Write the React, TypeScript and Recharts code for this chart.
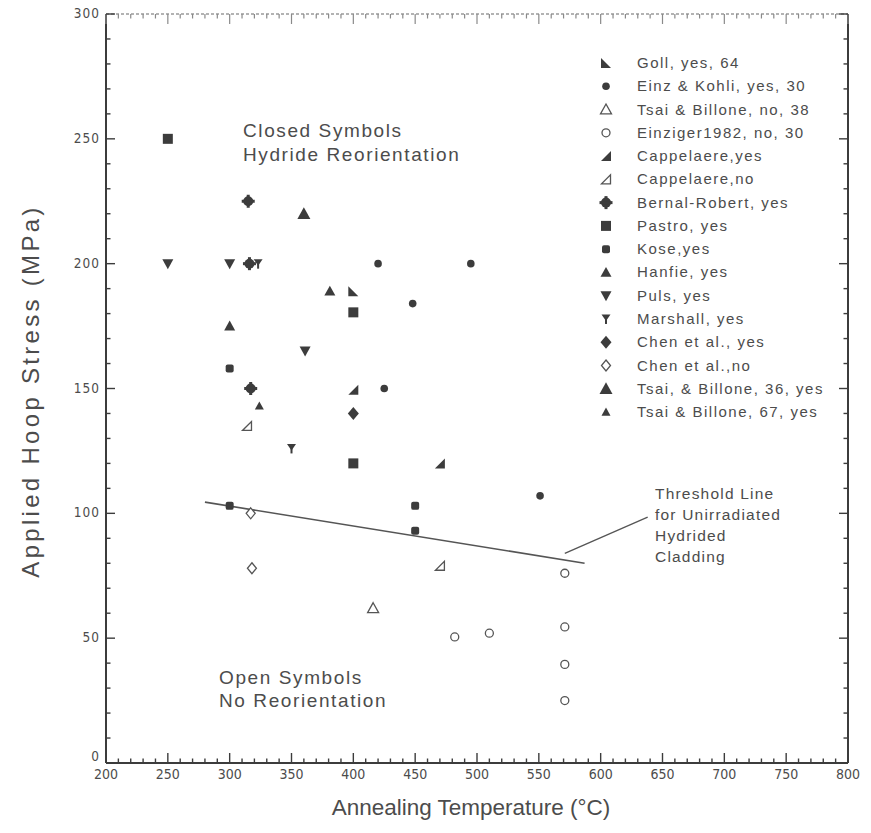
import React from 'react';
import { ScatterChart, Scatter, XAxis, YAxis, ReferenceLine, Customized } from 'recharts';

// annealing temperature (°C) / applied hoop stress (MPa)
const gollT = [400];
const gollS = [189];
const einzKohliT = [420, 495, 448, 425, 551];
const einzKohliS = [200, 200, 184, 150, 107];
const tsaiNoT = [416];
const tsaiNoS = [62];
const einziger82T = [482, 510, 571, 571, 571, 571];
const einziger82S = [50.5, 52, 76, 54.5, 39.5, 25];
const cappYesT = [400, 470];
const cappYesS = [149.5, 120];
const cappNoT = [314, 470];
const cappNoS = [135, 79];
const bernalT = [315, 316, 317];
const bernalS = [225, 200, 150];
const pastroT = [250, 400, 400];
const pastroS = [250, 180.5, 120];
const koseT = [300, 300, 450, 450];
const koseS = [158, 103, 103, 93];
const hanfieT = [300, 381];
const hanfieS = [175, 189];
const pulsT = [250, 300, 361];
const pulsS = [200, 200, 165];
const marshallT = [323, 350];
const marshallS = [200, 126];
const chenYesT = [400];
const chenYesS = [140];
const chenNoT = [317, 318];
const chenNoS = [100, 78];
const tsai36T = [360];
const tsai36S = [220];
const tsai67T = [324];
const tsai67S = [143];

const thresholdT = [280, 587];
const thresholdS = [104.5, 80];
const pointerT = [571, 638];
const pointerS = [84, 98.5];

const xTicks = Array.from({ length: 61 }, (_, i) => 200 + i * 10);
const yTicks = Array.from({ length: 31 }, (_, i) => i * 10);

const DARK = '#3c3c3c';
const TEXT = '#4c4c4c';
const NARROW = "'Liberation Sans Narrow', 'DejaVu Sans Condensed', 'Liberation Sans', sans-serif";
const SANS = "'Liberation Sans', Arial, sans-serif";

const PLOT_W = 742;
const PLOT_H = 749;

const pts = (t: number[], s: number[]) => t.map((x, i) => ({ x, y: s[i] }));

const series = [
  { name: 'Goll, yes, 64', kind: 'rtriL', data: pts(gollT, gollS) },
  { name: 'Einz & Kohli, yes, 30', kind: 'dot', data: pts(einzKohliT, einzKohliS) },
  { name: 'Tsai & Billone, no, 38', kind: 'openTri', data: pts(tsaiNoT, tsaiNoS) },
  { name: 'Einziger1982,  no, 30', kind: 'openCircle', data: pts(einziger82T, einziger82S) },
  { name: 'Cappelaere,yes', kind: 'rtriR', data: pts(cappYesT, cappYesS) },
  { name: 'Cappelaere,no', kind: 'openRtriR', data: pts(cappNoT, cappNoS) },
  { name: 'Bernal-Robert,  yes', kind: 'bigDot', data: pts(bernalT, bernalS) },
  { name: 'Pastro, yes', kind: 'square', data: pts(pastroT, pastroS) },
  { name: 'Kose,yes', kind: 'smallSquare', data: pts(koseT, koseS) },
  { name: 'Hanfie,  yes', kind: 'tri', data: pts(hanfieT, hanfieS) },
  { name: 'Puls, yes', kind: 'invTri', data: pts(pulsT, pulsS) },
  { name: 'Marshall,  yes', kind: 'invTriSmall', data: pts(marshallT, marshallS) },
  { name: 'Chen et al., yes', kind: 'diamond', data: pts(chenYesT, chenYesS) },
  { name: 'Chen et al.,no', kind: 'openDiamond', data: pts(chenNoT, chenNoS) },
  { name: 'Tsai, & Billone, 36, yes', kind: 'bigTri', data: pts(tsai36T, tsai36S) },
  { name: 'Tsai & Billone, 67, yes', kind: 'smallTri', data: pts(tsai67T, tsai67S) },
];

function Mark({ kind, cx, cy }: { kind: string; cx: number; cy: number }) {
  const open = { fill: '#fff', stroke: '#555', strokeWidth: 1.3 };
  const tri = (s: number) => `${cx},${cy - s} ${cx + s},${cy + s * 0.8} ${cx - s},${cy + s * 0.8}`;
  switch (kind) {
    case 'square':
      return <rect x={cx - 5} y={cy - 5} width={10} height={10} fill={DARK} />;
    case 'smallSquare':
      return <rect x={cx - 4} y={cy - 4} width={8} height={8} rx={2} fill={DARK} />;
    case 'dot':
      return <circle cx={cx} cy={cy} r={3.8} fill={DARK} />;
    case 'bigDot':
      return (
        <g fill={DARK}>
          <circle cx={cx} cy={cy} r={5} />
          <rect x={cx - 1.5} y={cy - 6.5} width={3} height={13} />
          <rect x={cx - 6.5} y={cy - 1.5} width={13} height={3} />
        </g>
      );
    case 'openCircle':
      return <circle cx={cx} cy={cy} r={4} {...open} />;
    case 'tri':
      return <polygon points={tri(5.5)} fill={DARK} />;
    case 'bigTri':
      return <polygon points={tri(6.5)} fill={DARK} />;
    case 'smallTri':
      return <polygon points={tri(4.5)} fill={DARK} />;
    case 'openTri':
      return <polygon points={tri(5.5)} {...open} />;
    case 'invTri':
      return <polygon points={`${cx - 5.5},${cy - 4.5} ${cx + 5.5},${cy - 4.5} ${cx},${cy + 5.5}`} fill={DARK} />;
    case 'invTriSmall':
      return (
        <g fill={DARK}>
          <polygon points={`${cx - 4.5},${cy - 4.5} ${cx + 4.5},${cy - 4.5} ${cx},${cy + 2}`} />
          <rect x={cx - 1} y={cy - 1} width={2} height={6} />
        </g>
      );
    case 'rtriL':
      return <polygon points={`${cx - 5},${cy - 5} ${cx - 5},${cy + 5} ${cx + 5},${cy + 5}`} fill={DARK} />;
    case 'rtriR':
      return <polygon points={`${cx + 5},${cy - 5} ${cx + 5},${cy + 5} ${cx - 5},${cy + 5}`} fill={DARK} />;
    case 'openRtriR':
      return <polygon points={`${cx + 4.5},${cy - 4.5} ${cx + 4.5},${cy + 4.5} ${cx - 4.5},${cy + 4.5}`} {...open} />;
    case 'diamond':
      return <polygon points={`${cx},${cy - 6.5} ${cx + 5.5},${cy} ${cx},${cy + 6.5} ${cx - 5.5},${cy}`} fill={DARK} />;
    case 'openDiamond':
      return <polygon points={`${cx},${cy - 5.5} ${cx + 4.5},${cy} ${cx},${cy + 5.5} ${cx - 4.5},${cy}`} {...open} />;
    default:
      return <g />;
  }
}

const XTick = (props: any) => {
  const { x, y, payload } = props;
  const v = payload.value;
  const major = v % 50 === 0;
  const len = major ? 10 : 4.5;
  return (
    <g>
      <line x1={x} y1={y} x2={x} y2={y - len} stroke={DARK} strokeWidth={1.4} />
      <line x1={x} y1={y - PLOT_H} x2={x} y2={y - PLOT_H + len} stroke="#8a8a8a" strokeWidth={1.2} />
      {major && (
        <text x={x} y={y + 16} textAnchor="middle" fontSize={14} fill={TEXT} fontFamily={NARROW}>
          {v}
        </text>
      )}
    </g>
  );
};

const YTick = (props: any) => {
  const { x, y, payload } = props;
  const v = payload.value;
  const major = v % 50 === 0;
  const len = major ? 9 : 4.5;
  return (
    <g>
      <line x1={x} y1={y} x2={x + len} y2={y} stroke={DARK} strokeWidth={1.4} />
      <line x1={x + PLOT_W} y1={y} x2={x + PLOT_W - len} y2={y} stroke={DARK} strokeWidth={1.4} />
      {major && (
        <text x={x - 6} y={v === 0 ? y - 2 : y + 4} textAnchor="end" fontSize={13.5} fill={TEXT} fontFamily={NARROW} letterSpacing={1}>
          {v}
        </text>
      )}
    </g>
  );
};

// legend block drawn at the upper right of the plot
const LegendBox = () => (
  <g transform="translate(596, 52)">
    {series.map((s, i) => {
      const cy = 11 + i * 23.27;
      return (
        <g key={s.name}>
          <Mark kind={s.kind} cx={10} cy={cy} />
          <text x={41} y={cy + 5} fontSize={15} fill={TEXT} fontFamily={SANS} letterSpacing={1.5}>
            {s.name}
          </text>
        </g>
      );
    })}
  </g>
);

const Notes = () => (
  <g fontFamily={SANS} fill={TEXT}>
    <LegendBox />
    <text x={243} y={137} fontSize={19} letterSpacing={1.6}>Closed Symbols</text>
    <text x={243} y={161} fontSize={19} letterSpacing={1.6}>Hydride Reorientation</text>
    <text x={219} y={684} fontSize={19} letterSpacing={1.6}>Open Symbols</text>
    <text x={219} y={707} fontSize={19} letterSpacing={1.6}>No Reorientation</text>
    <text fontSize={15.5} letterSpacing={1.2}>
      <tspan x={655} y={499}>Threshold Line</tspan>
      <tspan x={655} y={520}>for Unirradiated</tspan>
      <tspan x={655} y={541}>Hydrided</tspan>
      <tspan x={655} y={562}>Cladding</tspan>
    </text>
    <text x={471} y={815} fontSize={22.5} textAnchor="middle" letterSpacing={0}>
      Annealing Temperature (°C)
    </text>
    <text transform="rotate(-90)" x={-391} y={39} fontSize={24} textAnchor="middle" letterSpacing={3.3}>
      Applied Hoop Stress (MPa)
    </text>
  </g>
);

export default function App() {
  return (
    <div style={{ position: 'absolute', left: 0, top: 0, background: '#fff' }}>
      <ScatterChart width={871} height={833} margin={{ top: 14, right: 23, bottom: 40, left: 46 }}>
        <XAxis
          type="number"
          dataKey="x"
          domain={[200, 800]}
          ticks={xTicks}
          interval={0}
          tickSize={0}
          tickMargin={0}
          tick={<XTick />}
          axisLine={{ stroke: DARK, strokeWidth: 2 }}
          height={30}
          allowDataOverflow
        />
        <YAxis
          type="number"
          dataKey="y"
          domain={[0, 300]}
          ticks={yTicks}
          interval={0}
          tickSize={0}
          tickMargin={0}
          tick={<YTick />}
          axisLine={{ stroke: DARK, strokeWidth: 2 }}
          width={60}
          allowDataOverflow
        />
        <ReferenceLine y={300} stroke="#9a9a9a" strokeWidth={1.3} strokeDasharray="3 2" />
        <ReferenceLine x={800} stroke={DARK} strokeWidth={2} />
        <Scatter
          data={pts(thresholdT, thresholdS)}
          line={{ stroke: '#555', strokeWidth: 1.6 }}
          shape={() => <g />}
          legendType="none"
          isAnimationActive={false}
        />
        <Scatter
          data={pts(pointerT, pointerS)}
          line={{ stroke: '#555', strokeWidth: 1.3 }}
          shape={() => <g />}
          legendType="none"
          isAnimationActive={false}
        />
        {series.map((s) => (
          <Scatter
            key={s.name}
            name={s.name}
            data={s.data}
            shape={(p: any) => <Mark kind={s.kind} cx={p.cx} cy={p.cy} />}
            isAnimationActive={false}
          />
        ))}
        <Customized component={<Notes />} />
      </ScatterChart>
    </div>
  );
}
